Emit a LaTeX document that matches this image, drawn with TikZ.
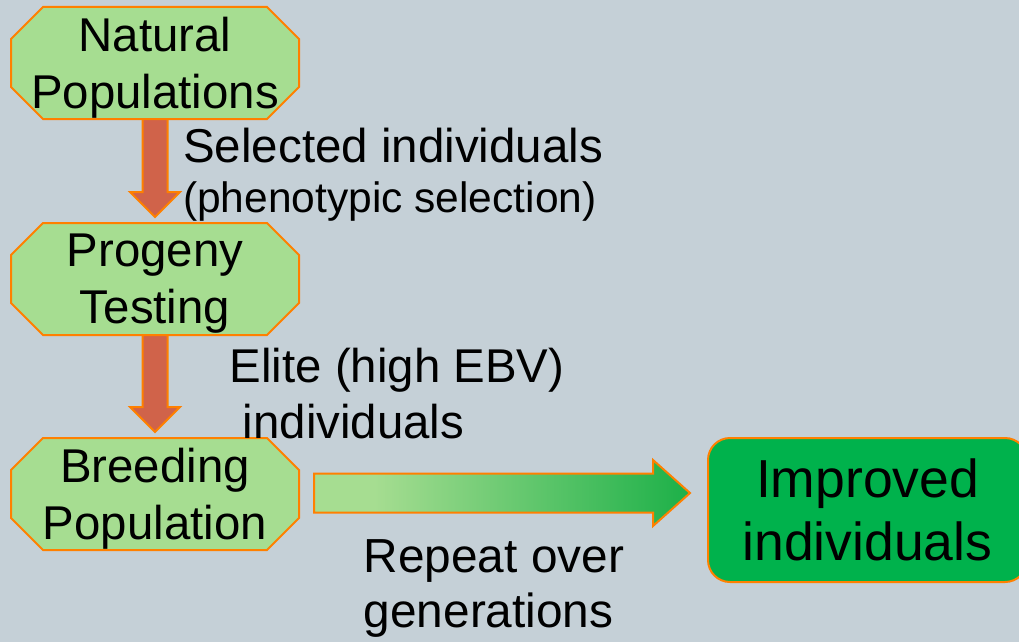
\documentclass[tikz,border=0pt]{standalone}
\usepackage{fontspec}
\setmainfont{Liberation Sans}
\usetikzlibrary{calc}

\definecolor{slate}{RGB}{197,208,215}
\definecolor{leafpale}{RGB}{166,221,145}
\definecolor{rim}{RGB}{255,128,0}
\definecolor{brick}{RGB}{208,99,74}
\definecolor{leaf}{RGB}{0,178,76}
\definecolor{leafdeep}{RGB}{28,176,72}

% light green that deepens towards the arrow tip
\pgfdeclarehorizontalshading{growth}{100bp}{color(0bp)=(leafpale); color(33bp)=(leafpale); color(75bp)=(leafdeep); color(100bp)=(leafdeep)}

\pgfdeclarelayer{back}
\pgfsetlayers{back,main}

% chamfered frame around a stage node (text sits slightly low in its frame)
\newcommand\stageframe[1]{%
  \filldraw[framestyle]
    ($(#1.center)+(-112,-61)$) -- ($(#1.center)+(112,-61)$) --
    ($(#1.center)+(144,-29)$)  -- ($(#1.center)+(144,19)$)  --
    ($(#1.center)+(112,51)$)   -- ($(#1.center)+(-112,51)$) --
    ($(#1.center)+(-144,19)$)  -- ($(#1.center)+(-144,-29)$) -- cycle;}

% thick block arrow pointing down from one stage to the next
\newcommand\dropdown[2]{%
  \filldraw[dropstyle]
    ($(#1.center)+(-12.5,51)$) -- ($(#1.center)+(12.5,51)$) --
    ($(#2.center)+(12.5,-92)$) -- ($(#2.center)+(25,-92)$) --
    ($(#2.center)+(0,-67)$)    -- ($(#2.center)+(-25,-92)$) --
    ($(#2.center)+(-12.5,-92)$) -- cycle;}

\begin{document}
\begin{tikzpicture}[x=1pt,y=-1pt,
  stage/.style={align=center,inner sep=0pt,font=\fontsize{47.4}{57}\selectfont},
  note/.style={align=left,inner sep=0pt,anchor=north west},
  framestyle/.style={fill=leafpale,draw=rim,line width=2pt,line join=miter},
  dropstyle/.style={fill=brick,draw=rim,line width=2pt,line join=miter},
  growstyle/.style={shading=growth,draw=rim,line width=2pt,line join=miter},
  goal/.style={draw=rim,line width=2pt,fill=leaf,rounded corners=22pt,
    minimum width=319pt,minimum height=144pt,inner sep=0pt}]

\useasboundingbox (0,0) rectangle (1019,642);
\begin{pgfonlayer}{back}
  \fill[slate] (0,0) rectangle (1019,642);
\end{pgfonlayer}

% stages
\node[stage] (nat)   at (155,68)  {Natural\\Populations};
\node[stage] (prog)  at (155,284) {Progeny\\Testing};
\node[stage] (breed) at (155,499) {Breeding\\Population};

\begin{pgfonlayer}{back}
  \stageframe{nat}
  \stageframe{prog}
  \stageframe{breed}
\end{pgfonlayer}

% result
\begin{pgfonlayer}{back}
  \node[goal] (grow) at (867.5,510) {};
\end{pgfonlayer}
\node[align=center,inner sep=0pt,font=\fontsize{53.5}{63}\selectfont] (growtext) at (grow.center) {Improved\\individuals};

% downward steps
\dropdown{nat}{prog}
\dropdown{prog}{breed}

% arrow towards the improved individuals
\coordinate (gs) at ($(breed.center)+(159,-6)$);
\coordinate (gt) at ($(grow.west)+(-17,0)$);
\coordinate (gtip) at (gt |- gs);
\shadedraw[growstyle]
  ($(gs)+(0,-19.5)$) -- ($(gtip)+(-37,-19.5)$) -- ($(gtip)+(-37,-33)$) --
  (gtip) -- ($(gtip)+(-37,33)$) -- ($(gtip)+(-37,19.5)$) --
  ($(gs)+(0,19.5)$) -- cycle;

% step labels
\node[note,font=\fontsize{47.5}{50}\selectfont] (sel) at (183,127.5)
  {Selected individuals\\{\fontsize{42.5}{50}\selectfont(phenotypic selection)}};
\node[note,font=\fontsize{47.4}{56}\selectfont] (elite) at (229.5,347.5)
  {Elite (high EBV)\\~individuals};
\node[note,font=\fontsize{47.8}{55}\selectfont] (rep) at (363.5,539)
  {Repeat over\\generations};

\end{tikzpicture}
\end{document}
